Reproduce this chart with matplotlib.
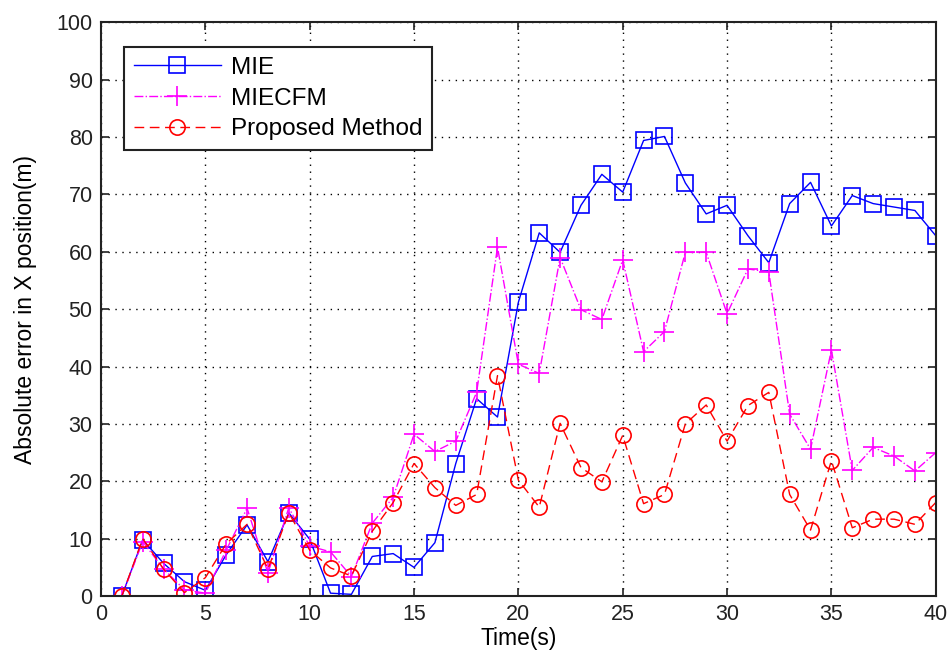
import matplotlib
matplotlib.use("Agg")
import matplotlib.pyplot as plt

time_s = list(range(1, 41))
mie = [0, 9.8, 5.7, 2.5, 1.0, 7.2, 12.4, 6.0, 14.5, 9.9,
       0.5, 0.3, 6.9, 7.4, 5.0, 9.3, 23.1, 34.4, 31.2, 51.2,
       63.3, 59.9, 68.1, 73.5, 70.4, 79.4, 80.1, 72.0, 66.6, 68.1,
       62.8, 58.1, 68.4, 72.1, 64.5, 69.8, 68.4, 67.8, 67.2, 62.8]
miecfm = [0, 9.5, 4.7, 1.1, 0.5, 8.0, 15.3, 4.0, 15.4, 8.7,
          7.7, 3.4, 12.7, 17.2, 28.2, 25.2, 27.0, 35.5, 60.8, 40.4,
          38.8, 59.0, 49.9, 48.2, 58.6, 42.6, 46.1, 59.9, 59.9, 49.2,
          57.0, 56.5, 31.7, 25.6, 42.9, 21.9, 25.9, 24.4, 21.8, 25.0]
proposed = [0, 10.0, 4.7, 0.6, 3.2, 9.1, 12.5, 4.7, 14.5, 8.0,
            4.9, 3.5, 11.3, 16.3, 23.1, 18.9, 15.8, 17.7, 38.4, 20.2,
            15.5, 30.1, 22.4, 19.9, 28.0, 16.1, 17.7, 30.0, 33.3, 27.0,
            33.2, 35.5, 17.7, 11.5, 23.6, 11.9, 13.4, 13.4, 12.5, 16.3]

x_ticks = list(range(0, 41, 5))
y_ticks = list(range(0, 101, 10))

plt.rcParams['font.family'] = ['Liberation Sans', 'DejaVu Sans']

fig = plt.figure(figsize=(9.5, 6.55), dpi=100)
ax = fig.add_axes([0.1063, 0.090, 0.8787, 0.876])

ax.plot(time_s, mie, color='#0000ff', linestyle='-', linewidth=1.0,
        marker='s', markersize=11, markerfacecolor='none',
        markeredgecolor='#0000ff', markeredgewidth=1.2, label='MIE')
ax.plot(time_s, miecfm, color='#ff00ff', linestyle='-.', linewidth=1.0,
        marker='+', markersize=14, markeredgewidth=1.2, label='MIECFM')
ax.plot(time_s, proposed, color='#ff0000', linestyle=(0, (7, 4)), linewidth=1.0,
        marker='o', markersize=11, markerfacecolor='none',
        markeredgecolor='#ff0000', markeredgewidth=1.2, label='Proposed Method')

ax.set_xlim(0, 40)
ax.set_ylim(0, 100)
ax.set_xticks(x_ticks)
ax.set_yticks(y_ticks)
ax.tick_params(direction='in', length=6, width=1.2, top=True, right=True,
               labelsize=15.5, pad=6, colors='#222222')
ax.grid(True, linestyle=(0, (1, 4)), color='black', linewidth=1.0)
for s in ax.spines.values():
    s.set_linewidth(1.5)
    s.set_color('#222222')

ax.set_xlabel('Time(s)', fontsize=16.5, labelpad=1)
ax.set_ylabel('Absolute error in X position(m)', fontsize=16.5, labelpad=14)

leg = ax.legend(loc='upper left', bbox_to_anchor=(0.0275, 0.9565),
                borderaxespad=0, fontsize=17.5, handlelength=3.6,
                handletextpad=0.4, labelspacing=0.36, fancybox=False,
                framealpha=1, edgecolor='#222222', borderpad=0.4)
leg.get_frame().set_linewidth(1.5)

fig.savefig('out.png', dpi=100, facecolor='white')
